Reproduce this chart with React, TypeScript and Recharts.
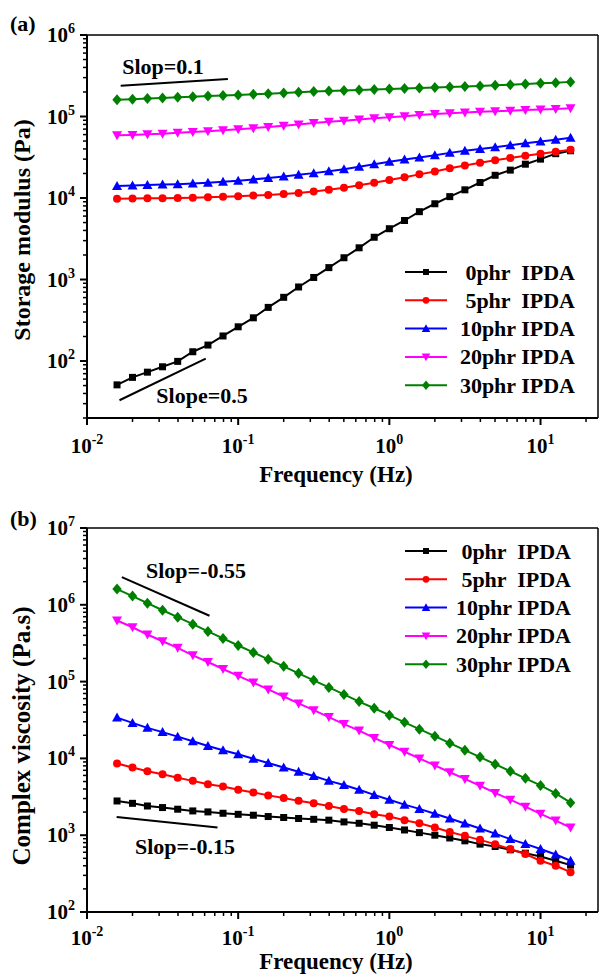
import React from "react";
import { LineChart, Line, XAxis, YAxis, ReferenceLine, Legend } from "recharts";

// frequency sweep, Hz
const FREQ = [
  0.0158, 0.02, 0.0251, 0.0316, 0.0398, 0.0501, 0.0631, 0.0794, 0.1, 0.126, 0.158,
  0.2, 0.251, 0.316, 0.398, 0.501, 0.631, 0.794, 1, 1.26, 1.58, 2, 2.51, 3.16, 3.98,
  5.01, 6.31, 7.94, 10, 12.6, 15.8,
];

// (a) storage modulus, Pa
const G_0 = [51, 63, 73, 85, 99, 130, 157, 203, 263, 339, 455, 605, 810, 1060, 1400, 1850, 2450, 3300, 4200, 5300, 6800, 8500, 10400, 12600, 15500, 19000, 22000, 26000, 30000, 35000, 38000];
const G_5 = [9800, 9850, 9900, 9950, 10000, 10100, 10200, 10350, 10500, 10700, 10900, 11200, 11500, 12000, 12600, 13400, 14300, 15400, 16600, 18000, 19500, 21200, 23200, 25000, 27000, 29000, 31000, 33000, 35000, 37000, 39000];
const G_10 = [14000, 14200, 14400, 14600, 14800, 15100, 15400, 15800, 16300, 16900, 17600, 18400, 19300, 20200, 21300, 22600, 24200, 26000, 27800, 29700, 31500, 33500, 35800, 38000, 40000, 42000, 44500, 47000, 49500, 52000, 55000];
const G_20 = [59000, 59500, 60500, 61500, 63000, 64500, 66000, 68000, 70000, 72000, 74500, 77000, 80000, 83000, 86000, 89000, 92000, 95000, 98000, 101000, 104000, 107000, 110000, 112000, 114000, 116000, 118000, 120000, 122000, 124000, 126000];
const G_30 = [160000, 163000, 166000, 169000, 172000, 175000, 178000, 181000, 184000, 187000, 190000, 194000, 198000, 202000, 206000, 209000, 212000, 215000, 218000, 221000, 224000, 227000, 230000, 233000, 237000, 241000, 245000, 250000, 255000, 260000, 266000];

// (b) complex viscosity, Pa.s
const ETA_0 = [2790, 2600, 2400, 2290, 2180, 2070, 2010, 1930, 1870, 1820, 1750, 1700, 1650, 1610, 1570, 1490, 1430, 1350, 1260, 1170, 1080, 1000, 920, 845, 765, 713, 645, 583, 528, 465, 408];
const ETA_5 = [8600, 7600, 6800, 6200, 5600, 5100, 4600, 4300, 3900, 3600, 3300, 3050, 2800, 2600, 2400, 2200, 2070, 1870, 1750, 1570, 1430, 1260, 1100, 980, 870, 765, 660, 567, 465, 400, 330];
const ETA_10 = [34000, 29000, 25000, 22000, 19200, 16700, 14500, 12800, 11300, 9900, 8700, 7600, 6700, 5900, 5100, 4500, 3900, 3350, 2900, 2500, 2200, 1900, 1650, 1420, 1220, 1050, 890, 770, 660, 560, 465];
const ETA_20 = [625000, 510000, 410000, 335000, 275000, 220000, 180000, 146000, 119000, 97000, 79000, 64000, 52000, 42500, 34500, 28000, 23000, 18500, 15000, 12200, 10000, 8100, 6600, 5400, 4400, 3550, 2900, 2350, 1900, 1550, 1260];
const ETA_30 = [1600000, 1300000, 1050000, 850000, 690000, 560000, 450000, 365000, 295000, 240000, 195000, 158000, 128000, 104000, 84000, 68000, 55000, 45000, 36500, 29500, 24000, 19500, 15800, 12800, 10400, 8400, 6800, 5500, 4450, 3500, 2650];

// guide lines drawn next to the curves
const SLOPE_A_TOP = [{ x: 0.0167, y: 239000 }, { x: 0.0855, y: 289000 }];
const SLOPE_A_BOT = [{ x: 0.0164, y: 33 }, { x: 0.061, y: 107 }];
const SLOPE_B_TOP = [{ x: 0.017, y: 2290000 }, { x: 0.0646, y: 720000 }];
const SLOPE_B_BOT = [{ x: 0.0157, y: 1730 }, { x: 0.073, y: 1260 }];

const X_MAX = 24;
const X_DECADES = [0.01, 0.1, 1, 10];
const YA_DECADES = [10, 100, 1e3, 1e4, 1e5];
const YB_DECADES = [100, 1e3, 1e4, 1e5, 1e6];
const MULT = [1, 2, 3, 4, 5, 6, 7, 8, 9];

const X_TICKS = X_DECADES.flatMap((d) => MULT.map((m) => d * m)).filter((v) => v <= X_MAX);
const YA_TICKS = [...YA_DECADES.flatMap((d) => MULT.map((m) => d * m)), 1e6].filter((v) => v >= 20);
const YB_TICKS = [...YB_DECADES.flatMap((d) => MULT.map((m) => d * m)), 1e7];

const SERIES = [
  { key: "p0", name: "0phr  IPDA", color: "#000000", shape: "square" },
  { key: "p5", name: "5phr  IPDA", color: "#ff0000", shape: "circle" },
  { key: "p10", name: "10phr IPDA", color: "#0000ff", shape: "up" },
  { key: "p20", name: "20phr IPDA", color: "#ff00ff", shape: "down" },
  { key: "p30", name: "30phr IPDA", color: "#008000", shape: "diamond" },
];

const FONT = "'Liberation Serif', 'Times New Roman', serif";

const storageRows = FREQ.map((f, i) => ({ f, p0: G_0[i], p5: G_5[i], p10: G_10[i], p20: G_20[i], p30: G_30[i] }));
const viscRows = FREQ.map((f, i) => ({ f, p0: ETA_0[i], p5: ETA_5[i], p10: ETA_10[i], p20: ETA_20[i], p30: ETA_30[i] }));

function Marker({ cx, cy, shape, color, s = 1 }: any) {
  if (cx == null || cy == null) return <g />;
  switch (shape) {
    case "square":
      return <rect x={cx - 3.5 * s} y={cy - 3.5 * s} width={7 * s} height={7 * s} fill={color} />;
    case "circle":
      return <circle cx={cx} cy={cy} r={4 * s} fill={color} />;
    case "up":
      return <polygon points={`${cx},${cy - 5 * s} ${cx + 5 * s},${cy + 4 * s} ${cx - 5 * s},${cy + 4 * s}`} fill={color} />;
    case "down":
      return <polygon points={`${cx},${cy + 5 * s} ${cx + 5 * s},${cy - 4 * s} ${cx - 5 * s},${cy - 4 * s}`} fill={color} />;
    default:
      return <polygon points={`${cx},${cy - 5.5 * s} ${cx + 4.7 * s},${cy} ${cx},${cy + 5.5 * s} ${cx - 4.7 * s},${cy}`} fill={color} />;
  }
}

function majorExp(v: number) {
  const l = Math.log10(v);
  const e = Math.round(l);
  return Math.abs(l - e) < 1e-6 ? e : null;
}

function XTick({ x, y, payload, labelDy }: any) {
  const e = majorExp(payload.value);
  return (
    <g>
      <line x1={x} x2={x} y1={y} y2={y + (e !== null ? 7 : 4)} stroke="#000" strokeWidth={e !== null ? 2 : 1.5} />
      {e !== null && (
        <text x={x} y={y + labelDy} textAnchor="middle" fontFamily={FONT} fontWeight="bold" fontSize={21} fill="#000">
          10<tspan dy={-9} fontSize={14}>{String(e)}</tspan>
        </text>
      )}
    </g>
  );
}

function YTick({ x, y, payload }: any) {
  const e = majorExp(payload.value);
  return (
    <g>
      <line x1={x} x2={x - (e !== null ? 7 : 4)} y1={y} y2={y} stroke="#000" strokeWidth={e !== null ? 2 : 1.5} />
      {e !== null && (
        <text x={x - 12} y={y + 7} textAnchor="end" fontFamily={FONT} fontWeight="bold" fontSize={21} fill="#000">
          10<tspan dy={-9} fontSize={14}>{String(e)}</tspan>
        </text>
      )}
    </g>
  );
}

// legend rows follow SERIES order (the library's payload is sorted by name)
function LegendBox({ payload, textEnd }: any) {
  return (
    <svg width={200} height={150} style={{ display: "block" }}>
      {SERIES.map((s, i) => {
        const hit = (payload || []).find((p: any) => p.dataKey === s.key);
        const color = hit?.color || s.color;
        const cy = 14 + i * 28.3;
        return (
          <g key={s.key}>
            <line x1={5} x2={47} y1={cy} y2={cy} stroke={color} strokeWidth={2} />
            <Marker cx={26} cy={cy} shape={s.shape} color={color} s={0.85} />
            <text x={textEnd} y={cy + 7.5} textAnchor="end" fontFamily={FONT} fontWeight="bold" fontSize={22} fill="#000" style={{ whiteSpace: "pre" }}>
              {s.name}
            </text>
          </g>
        );
      })}
    </svg>
  );
}

function Panel({ rows, yDomain, yTicks, slopes, height, top, xAxisHeight, labelDy, legendTop, textEnd }: any) {
  return (
    <LineChart width={600} height={height} data={rows} margin={{ top, right: 2, bottom: 0, left: 0 }}>
      <XAxis
        dataKey="f"
        type="number"
        scale="log"
        domain={[0.01, X_MAX]}
        allowDataOverflow
        ticks={X_TICKS}
        interval={0}
        height={xAxisHeight}
        tickSize={0}
        tickMargin={0}
        tickLine={false}
        axisLine={{ stroke: "#000", strokeWidth: 2 }}
        tick={(p: any) => <XTick {...p} labelDy={labelDy} />}
      />
      <YAxis
        type="number"
        scale="log"
        domain={yDomain}
        allowDataOverflow
        ticks={yTicks}
        interval={0}
        width={87}
        tickSize={0}
        tickMargin={0}
        tickLine={false}
        axisLine={{ stroke: "#000", strokeWidth: 2 }}
        tick={(p: any) => <YTick {...p} />}
      />
      <ReferenceLine y={yDomain[1]} stroke="#000" strokeWidth={1.5} />
      <ReferenceLine x={X_MAX} stroke="#000" strokeWidth={1.5} />
      {slopes.map((seg: any, i: number) => (
        <ReferenceLine key={i} segment={seg} stroke="#000" strokeWidth={2} ifOverflow="visible" />
      ))}
      {SERIES.map((s) => (
        <Line
          key={s.key}
          dataKey={s.key}
          name={s.name}
          stroke={s.color}
          strokeWidth={2}
          isAnimationActive={false}
          dot={(p: any) => <Marker key={`${s.key}-${p.index}`} cx={p.cx} cy={p.cy} shape={s.shape} color={s.color} />}
          activeDot={false}
        />
      ))}
      <Legend
        layout="vertical"
        align="center"
        verticalAlign="middle"
        wrapperStyle={{ left: 400, top: legendTop, width: 200, height: 150, margin: 0, padding: 0 }}
        content={(p: any) => <LegendBox payload={p.payload} textEnd={textEnd} />}
      />
    </LineChart>
  );
}

const txt = { fontFamily: FONT, fontWeight: "bold" as const, fill: "#000" };

export default function App() {
  return (
    <div style={{ position: "absolute", left: 0, top: 0, width: 600, height: 978, background: "#fff", overflow: "hidden" }}>
      <div style={{ position: "absolute", left: 0, top: 0 }}>
        <Panel
          rows={storageRows}
          yDomain={[20, 1e6]}
          yTicks={YA_TICKS}
          slopes={[SLOPE_A_TOP, SLOPE_A_BOT]}
          height={490}
          top={35}
          xAxisHeight={72}
          labelDy={35}
          legendTop={258}
          textEnd={175}
        />
      </div>
      <div style={{ position: "absolute", left: 0, top: 490 }}>
        <Panel
          rows={viscRows}
          yDomain={[100, 1e7]}
          yTicks={YB_TICKS}
          slopes={[SLOPE_B_TOP, SLOPE_B_BOT]}
          height={488}
          top={38}
          xAxisHeight={66}
          labelDy={33}
          legendTop={47}
          textEnd={171}
        />
      </div>
      <svg width={600} height={978} style={{ position: "absolute", left: 0, top: 0, pointerEvents: "none" }}>
        <text x={10} y={31} fontSize={22} {...txt}>(a)</text>
        <text x={10} y={526} fontSize={22} {...txt}>(b)</text>
        <text x={30} y={230} fontSize={24} textAnchor="middle" transform="rotate(-90 30 230)" {...txt}>Storage modulus (Pa)</text>
        <text x={30} y={736} fontSize={25} textAnchor="middle" transform="rotate(-90 30 736)" {...txt}>Complex viscosity (Pa.s)</text>
        <text x={336} y={482} fontSize={23} textAnchor="middle" {...txt}>Frequency (Hz)</text>
        <text x={336} y={969} fontSize={23} textAnchor="middle" {...txt}>Frequency (Hz)</text>
        <text x={163} y={74} fontSize={22} textAnchor="middle" {...txt}>Slop=0.1</text>
        <text x={202} y={403} fontSize={22} textAnchor="middle" {...txt}>Slope=0.5</text>
        <text x={196} y={578} fontSize={22} textAnchor="middle" {...txt}>Slop=-0.55</text>
        <text x={185} y={854} fontSize={22} textAnchor="middle" {...txt}>Slop=-0.15</text>
      </svg>
    </div>
  );
}
